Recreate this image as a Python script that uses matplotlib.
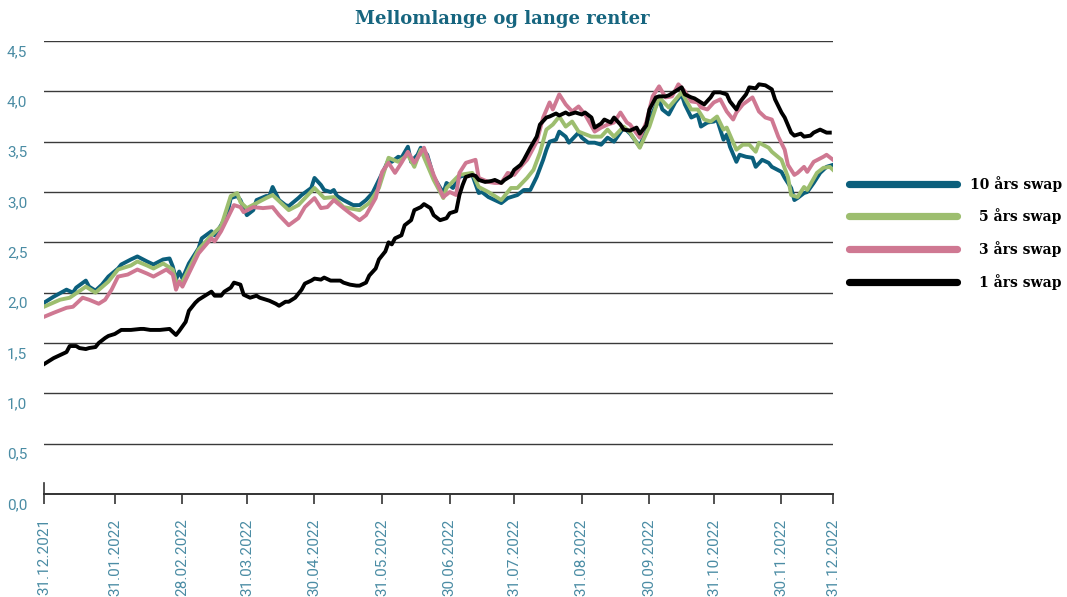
"""Mellomlange og lange renter: swaprenter 2022 (1, 3, 5 og 10 år)."""

import matplotlib

matplotlib.use("Agg")
import matplotlib.pyplot as plt
from matplotlib.transforms import ScaledTranslation

# --- data (handelsdag-indeks fra 31.12.2021, rente i prosent) ---------------
days_10 = [0, 3, 7, 9, 10, 13, 14, 16, 18, 20, 23, 24, 27, 29, 32, 34, 37, 39,
           40, 41, 42, 43, 45, 48, 49, 52, 53, 55, 57, 58, 60, 61, 63, 65, 66,
           69, 70, 71, 73, 75, 76, 79, 80, 83, 84, 86, 87, 89, 90, 91, 93, 96,
           98, 100, 102, 104, 106, 107, 108, 110, 111, 113, 114, 116, 117, 119,
           121, 124, 125, 127, 129, 131, 133, 135, 136, 138, 140, 142, 144, 145,
           147, 149, 151, 153, 155, 156, 157, 159, 160, 162, 163, 166, 167, 169,
           171, 173, 175, 177, 180, 182, 185, 187, 189, 191, 192, 194, 196, 198,
           199, 201, 203, 204, 206, 208, 209, 211, 212, 213, 215, 216, 218, 220,
           221, 223, 225, 226, 229, 230, 232, 233, 234, 236, 237, 239, 241, 243,
           245]
rate_10 = [1.90, 1.96, 2.03, 2.00, 2.05, 2.12, 2.06, 2.02, 2.08, 2.16, 2.24,
           2.28, 2.33, 2.36, 2.31, 2.28, 2.33, 2.34, 2.26, 2.13, 2.21, 2.14,
           2.29, 2.44, 2.54, 2.61, 2.57, 2.67, 2.79, 2.94, 2.96, 2.92, 2.77,
           2.82, 2.92, 2.96, 2.96, 3.05, 2.92, 2.87, 2.86, 2.94, 2.97, 3.04,
           3.14, 3.07, 3.02, 3.00, 3.02, 2.96, 2.92, 2.87, 2.87, 2.92, 2.99,
           3.12, 3.25, 3.32, 3.30, 3.35, 3.34, 3.45, 3.30, 3.37, 3.44, 3.37,
           3.15, 2.99, 3.09, 3.04, 3.15, 3.17, 3.17, 2.99, 3.00, 2.95, 2.92,
           2.89, 2.94, 2.95, 2.97, 3.02, 3.02, 3.15, 3.32, 3.42, 3.50, 3.52,
           3.60, 3.55, 3.49, 3.59, 3.54, 3.49, 3.49, 3.47, 3.54, 3.50, 3.64,
           3.58, 3.45, 3.62, 3.79, 3.92, 3.82, 3.77, 3.89, 3.97, 3.87, 3.74,
           3.77, 3.65, 3.69, 3.70, 3.72, 3.52, 3.57, 3.45, 3.30, 3.37, 3.35,
           3.34, 3.25, 3.32, 3.29, 3.25, 3.20, 3.14, 3.04, 2.92, 2.94, 2.99,
           3.00, 3.09, 3.19, 3.25, 3.27]

days_5 = [0, 5, 8, 13, 16, 20, 23, 27, 29, 32, 34, 37, 40, 41, 43, 48, 52, 55,
          58, 60, 61, 63, 69, 71, 76, 79, 84, 87, 90, 93, 98, 101, 104, 107,
          110, 113, 115, 117, 121, 124, 125, 129, 133, 135, 138, 142, 145, 147,
          150, 152, 154, 156, 158, 160, 162, 164, 166, 170, 173, 175, 177, 180,
          182, 185, 188, 191, 194, 198, 201, 203, 205, 207, 209, 211, 212, 215,
          217, 219, 221, 222, 225, 226, 229, 231, 232, 234, 236, 237, 240, 242,
          244, 245]
rate_5 = [1.86, 1.93, 1.95, 2.06, 2.00, 2.11, 2.23, 2.27, 2.31, 2.27, 2.24,
          2.29, 2.23, 2.11, 2.11, 2.43, 2.57, 2.66, 2.96, 2.99, 2.90, 2.84,
          2.94, 2.97, 2.82, 2.87, 3.04, 2.94, 2.95, 2.85, 2.82, 2.89, 3.04,
          3.34, 3.30, 3.37, 3.25, 3.42, 3.12, 2.94, 3.04, 3.17, 3.19, 3.05,
          3.00, 2.92, 3.04, 3.04, 3.14, 3.22, 3.39, 3.62, 3.67, 3.75, 3.65,
          3.70, 3.60, 3.55, 3.55, 3.62, 3.55, 3.65, 3.59, 3.44, 3.65, 3.94,
          3.84, 3.99, 3.82, 3.82, 3.72, 3.70, 3.75, 3.62, 3.64, 3.42, 3.47,
          3.47, 3.40, 3.49, 3.44, 3.40, 3.32, 3.15, 2.97, 2.95, 3.05, 3.02,
          3.19, 3.24, 3.25, 3.22]

days_3 = [0, 3, 7, 9, 12, 14, 17, 19, 21, 23, 26, 29, 32, 34, 38, 40, 41, 42,
          43, 48, 52, 53, 55, 57, 59, 61, 62, 65, 68, 71, 73, 76, 79, 81, 84,
          86, 88, 90, 93, 95, 98, 100, 103, 105, 107, 109, 111, 113, 115, 118,
          119, 121, 124, 126, 128, 129, 131, 134, 135, 138, 140, 142, 144, 146,
          148, 150, 153, 155, 157, 158, 160, 162, 164, 166, 168, 171, 173, 175,
          177, 179, 181, 182, 185, 187, 189, 191, 193, 195, 197, 199, 201, 203,
          204, 206, 208, 210, 212, 214, 215, 217, 220, 222, 224, 226, 228, 230,
          231, 233, 234, 236, 237, 239, 242, 243, 245]
rate_3 = [1.76, 1.80, 1.85, 1.86, 1.95, 1.93, 1.89, 1.93, 2.03, 2.16, 2.18,
          2.23, 2.19, 2.16, 2.23, 2.18, 2.03, 2.11, 2.06, 2.39, 2.54, 2.51,
          2.61, 2.74, 2.87, 2.85, 2.80, 2.85, 2.84, 2.85, 2.77, 2.67, 2.74,
          2.85, 2.94, 2.84, 2.85, 2.92, 2.84, 2.79, 2.72, 2.77, 2.94, 3.20,
          3.29, 3.19, 3.29, 3.40, 3.29, 3.44, 3.35, 3.17, 2.95, 3.00, 2.97,
          3.19, 3.29, 3.32, 3.14, 3.10, 3.09, 3.09, 3.19, 3.17, 3.25, 3.32,
          3.50, 3.74, 3.89, 3.82, 3.97, 3.87, 3.80, 3.85, 3.77, 3.60, 3.64,
          3.67, 3.69, 3.79, 3.69, 3.67, 3.54, 3.69, 3.95, 4.05, 3.94, 3.95,
          4.07, 4.00, 3.90, 3.89, 3.84, 3.82, 3.89, 3.92, 3.80, 3.72, 3.79,
          3.87, 3.94, 3.80, 3.74, 3.72, 3.55, 3.42, 3.27, 3.17, 3.19, 3.25,
          3.20, 3.30, 3.35, 3.37, 3.32]

days_1 = [0, 2, 3, 5, 7, 8, 10, 11, 13, 14, 16, 17, 19, 20, 22, 24, 27, 30, 31,
          33, 36, 39, 41, 42, 44, 45, 47, 48, 50, 52, 53, 55, 56, 58, 59, 61,
          62, 64, 66, 67, 70, 72, 73, 75, 76, 78, 80, 81, 83, 84, 86, 87, 89,
          92, 93, 95, 97, 98, 100, 101, 103, 104, 106, 107, 108, 109, 111, 112,
          114, 115, 117, 118, 120, 121, 123, 125, 126, 128, 129, 130, 131, 133,
          134, 135, 137, 139, 140, 142, 143, 145, 146, 148, 149, 151, 153, 154,
          156, 157, 159, 160, 162, 163, 165, 167, 168, 170, 171, 173, 174, 176,
          177, 179, 180, 182, 184, 185, 187, 188, 190, 191, 193, 194, 196, 198,
          199, 201, 202, 204, 205, 207, 208, 210, 212, 213, 215, 216, 218, 219,
          221, 222, 224, 226, 227, 229, 230, 232, 233, 235, 236, 238, 239, 241,
          243, 244]
rate_1 = [1.29, 1.33, 1.35, 1.38, 1.41, 1.47, 1.47, 1.45, 1.44, 1.45, 1.46,
          1.50, 1.55, 1.57, 1.59, 1.63, 1.63, 1.64, 1.64, 1.63, 1.63, 1.64,
          1.58, 1.62, 1.71, 1.82, 1.90, 1.93, 1.97, 2.01, 1.97, 1.97, 2.01,
          2.05, 2.10, 2.08, 1.98, 1.95, 1.97, 1.95, 1.92, 1.89, 1.87, 1.91,
          1.91, 1.95, 2.03, 2.09, 2.12, 2.14, 2.13, 2.15, 2.12, 2.12, 2.10,
          2.08, 2.07, 2.07, 2.10, 2.17, 2.24, 2.33, 2.41, 2.50, 2.48, 2.54,
          2.57, 2.67, 2.72, 2.82, 2.85, 2.88, 2.84, 2.77, 2.72, 2.74, 2.79,
          2.81, 2.97, 3.07, 3.15, 3.17, 3.16, 3.12, 3.10, 3.11, 3.12, 3.09,
          3.12, 3.16, 3.22, 3.27, 3.32, 3.44, 3.55, 3.67, 3.74, 3.75, 3.78,
          3.76, 3.79, 3.77, 3.79, 3.77, 3.79, 3.74, 3.64, 3.68, 3.72, 3.69,
          3.74, 3.67, 3.62, 3.61, 3.64, 3.58, 3.66, 3.82, 3.94, 3.95, 3.95,
          3.96, 4.00, 4.04, 3.97, 3.94, 3.93, 3.89, 3.87, 3.94, 3.99, 3.99,
          3.97, 3.90, 3.82, 3.89, 3.97, 4.04, 4.03, 4.07, 4.06, 4.02, 3.92,
          3.79, 3.74, 3.59, 3.56, 3.58, 3.55, 3.56, 3.59, 3.62, 3.59, 3.59]

tick_days = [0, 22, 43, 63, 84, 105, 126, 146, 167, 188, 208, 229, 245]
tick_labels = ["31.12.2021", "31.01.2022", "28.02.2022", "31.03.2022",
               "30.04.2022", "31.05.2022", "30.06.2022", "31.07.2022",
               "31.08.2022", "30.09.2022", "31.10.2022", "30.11.2022",
               "31.12.2022"]
y_ticks = [0.0, 0.5, 1.0, 1.5, 2.0, 2.5, 3.0, 3.5, 4.0, 4.5]

series_names = ["10 års swap", "5 års swap", "3 års swap", "1 års swap"]
series_colors = ["#0b5f7c", "#9dbe6f", "#cf7892", "#000000"]
series_data = [(days_10, rate_10), (days_5, rate_5),
               (days_3, rate_3), (days_1, rate_1)]

TITLE_COLOR = "#16657f"
LABEL_COLOR = "#4a8ca4"
TICK_FONT = ["Roboto", "DejaVu Sans"]

fig = plt.figure(figsize=(10.67, 5.97), dpi=100)
ax = fig.add_axes([0.0412, 0.1725, 0.7395, 0.7588])

for (x, y), color in zip(series_data, series_colors):
    ax.plot(x, y, color=color, lw=2.8, solid_joinstyle="round", zorder=3)

ax.set_xlim(0, 245)
ax.set_ylim(0, 4.5)
ax.set_yticks(y_ticks)
ax.set_yticklabels([f"{v:.1f}".replace(".", ",") for v in y_ticks],
                   color=LABEL_COLOR, fontsize=11, family=TICK_FONT)
ax.set_xticks(tick_days)
ax.set_xticklabels(tick_labels, rotation=90, color=LABEL_COLOR,
                   fontsize=11, family=TICK_FONT)
ax.tick_params(axis="y", length=0, pad=12)
ax.tick_params(axis="x", length=7.5, width=1.2, color="#333333",
               direction="out", pad=10)
ax.grid(axis="y", color="#3a3a3a", lw=1.0, zorder=1)

# y-etikettene står litt under sine gitterlinjer
shift = ScaledTranslation(0, -0.095, fig.dpi_scale_trans)
for lbl in ax.get_yticklabels():
    lbl.set_transform(lbl.get_transform() + shift)

for side in ("top", "right"):
    ax.spines[side].set_visible(False)
ax.spines["bottom"].set_color("#333333")
ax.spines["bottom"].set_linewidth(1.4)
ax.spines["left"].set_color("#333333")
ax.spines["left"].set_linewidth(1.2)
ax.spines["left"].set_bounds(0, 0.11)

fig.text(0.4705, 0.968, "Mellomlange og lange renter", ha="center",
         va="center", fontsize=13, fontweight="bold", color=TITLE_COLOR,
         family="DejaVu Serif")

# tegnforklaring til høyre
lax = fig.add_axes([0.79, 0.5, 0.205, 0.22])
lax.set_xlim(0, 1)
lax.set_ylim(-0.5, 3.5)
lax.axis("off")
for i, (name, color) in enumerate(zip(series_names, series_colors)):
    row = 3 - i
    lax.plot([0.03, 0.52], [row, row], color=color, lw=5.2,
             solid_capstyle="round")
    lax.text(1.0, row, name, ha="right", va="center", fontsize=10,
             fontweight="bold", family="DejaVu Serif")

fig.savefig("out.png", dpi=100)
